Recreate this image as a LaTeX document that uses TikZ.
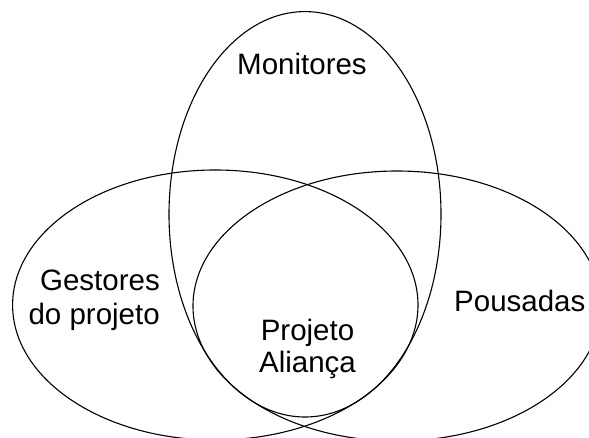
\documentclass[tikz,border=0pt]{standalone}
\usepackage{fontspec}
\setmainfont{Liberation Sans}
\begin{document}
\begin{tikzpicture}[x=1bp,y=-1bp,
  venn/.style={draw=black,line width=1.1bp},
  lbl/.style={inner sep=0pt,font=\fontsize{29.5bp}{33bp}\selectfont}]
\useasboundingbox (0,0) rectangle (589,438);
\clip (0,0) rectangle (589,438);
% sets
\draw[venn] (305,214.3) ellipse [x radius=136bp, y radius=202.7bp];
\draw[venn] (215.3,305) ellipse [x radius=202.7bp, y radius=135bp];
\draw[venn] (397,306) ellipse [x radius=204bp, y radius=135bp];
% labels
\node[lbl,anchor=base] (mon) at (302,75) {Monitores};
\node[lbl,anchor=base east] (gest1) at (160,290.7) {Gestores};
\node[lbl,anchor=base east] (gest2) at (160,324) {do projeto};
\node[lbl,anchor=base] (proj1) at (307.5,340) {Projeto};
\node[lbl,anchor=base] (proj2) at (307.5,372.7) {Aliança};
\node[lbl,anchor=base west] (pous) at (454,311.7) {Pousadas};
\end{tikzpicture}
\end{document}
